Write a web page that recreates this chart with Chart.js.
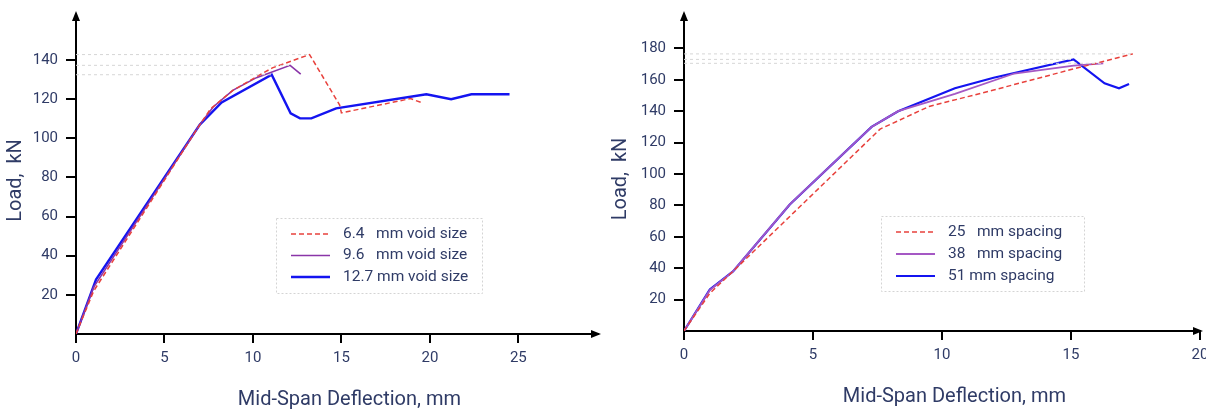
<!DOCTYPE html>
<html>
<head>
<meta charset="utf-8">
<script src="https://cdn.jsdelivr.net/npm/chart.js@4.4.1/dist/chart.umd.min.js"></script>
<style>
html, body { margin: 0; padding: 0; background: #fff; overflow: hidden; width: 1206px; height: 412px; }
canvas { position: absolute; top: 0; }
#leftChart { left: 0; }
#rightChart { left: 605px; }
</style>
</head>
<body>
<canvas id="leftChart" width="605" height="412"></canvas>
<canvas id="rightChart" width="615" height="412"></canvas>
<script>
// ---- Left chart: void size ----
const leftXTicks = [0, 5, 10, 15, 20, 25];
const leftYTicks = [20, 40, 60, 80, 100, 120, 140];

const void64X = [0, 1, 7, 7.6, 8.86, 10.2, 11.1, 13.2, 14.9, 15, 18.9, 19.6];
const void64Y = [0, 22, 107, 115, 124.5, 131.5, 136, 142.8, 117, 113, 120.3, 118];
const void96X = [0, 1, 7, 7.75, 8.86, 10.2, 12.1, 12.7];
const void96Y = [0, 24, 107, 116, 124.5, 131, 137.3, 132.8];
const void127X = [0, 1.13, 7, 8.23, 11.06, 12.13, 12.66, 13.3, 14.7, 19.8, 21.2, 22.35, 24.5];
const void127Y = [0, 27.8, 107, 118.3, 132.5, 112.8, 110.2, 110.2, 115.3, 122.5, 120, 122.5, 122.5];

// ---- Right chart: spacing ----
const rightXTicks = [0, 5, 10, 15, 20];
const rightYTicks = [20, 40, 60, 80, 100, 120, 140, 160, 180];

const sp25X = [0, 1, 1.9, 7.6, 9.5, 12, 15, 17.4];
const sp25Y = [0, 24, 38, 128.6, 143, 153.5, 166.5, 176.5];
const sp38X = [0, 1, 1.9, 4.1, 7.27, 8.3, 10.5, 12.8, 15.1, 16.25];
const sp38Y = [0, 26, 38, 80.6, 130, 140, 151, 164, 169, 170.5];
const sp51X = [0, 1, 1.9, 4.1, 7.27, 8.3, 10.5, 12, 15.1, 16.3, 16.86, 17.25];
const sp51Y = [0, 26.5, 38, 80.6, 130, 140, 154.6, 161.3, 173, 157.8, 154.6, 157.3];

const TEXT_COLOR = '#2f3b66';
const FONT = 'Roboto, "DejaVu Sans", sans-serif';

function toPoints(xs, ys) {
    return xs.map((x, i) => ({ x: x, y: ys[i] }));
}

// dotted line at the peak load of a series, from the y axis to the peak
function peakLine(xs, ys) {
    let k = 0;
    ys.forEach((v, i) => { if (v > ys[k]) k = i; });
    return {
        isRef: true,
        data: [{ x: 0, y: ys[k] }, { x: xs[k], y: ys[k] }],
        borderColor: '#d6d6d6',
        borderWidth: 1,
        borderDash: [3, 3],
        pointRadius: 0
    };
}

function series(label, xs, ys, color, width, dash) {
    return {
        label: label,
        data: toPoints(xs, ys),
        borderColor: color,
        borderWidth: width,
        borderDash: dash || [],
        pointRadius: 0,
        tension: 0,
        fill: false
    };
}

// axis arrows + boxed legend
const decorPlugin = {
    id: 'decor',
    afterDraw(chart, args, opts) {
        const ctx = chart.ctx;
        const a = chart.chartArea;
        ctx.save();
        ctx.fillStyle = '#000';
        ctx.beginPath();
        ctx.moveTo(a.left, a.top - 6);
        ctx.lineTo(a.left - 4, a.top + 4);
        ctx.lineTo(a.left + 4, a.top + 4);
        ctx.closePath();
        ctx.fill();
        ctx.beginPath();
        ctx.moveTo(a.right + 3, a.bottom);
        ctx.lineTo(a.right - 7, a.bottom - 4);
        ctx.lineTo(a.right - 7, a.bottom + 4);
        ctx.closePath();
        ctx.fill();

        // legend box
        const L = opts.legend;
        ctx.strokeStyle = '#d4d4d4';
        ctx.lineWidth = 1;
        ctx.setLineDash([2, 2]);
        ctx.strokeRect(L.x + 0.5, L.y + 0.5, L.w, L.h);
        const items = chart.data.datasets.filter(d => !d.isRef);
        ctx.font = '15.5px ' + FONT;
        ctx.textBaseline = 'middle';
        items.forEach((d, i) => {
            const y = L.y + L.firstRow + i * L.rowGap;
            ctx.strokeStyle = d.borderColor;
            ctx.lineWidth = d.borderWidth;
            ctx.setLineDash(d.borderDash);
            ctx.beginPath();
            ctx.moveTo(L.x + 15, y);
            ctx.lineTo(L.x + 54, y);
            ctx.stroke();
            ctx.fillStyle = TEXT_COLOR;
            ctx.fillText(d.label, L.x + 67, y);
        });
        ctx.restore();
    }
};

function makeOptions(cfg) {
    return {
        responsive: false,
        animation: false,
        layout: { padding: { top: 10, right: cfg.padRight, left: 0, bottom: 0 } },
        plugins: {
            legend: { display: false },
            tooltip: { enabled: false },
            decor: { legend: cfg.legend }
        },
        scales: {
            x: {
                type: 'linear',
                min: 0,
                max: cfg.xMax,
                afterBuildTicks: s => { s.ticks = cfg.xTicks.map(v => ({ value: v })); },
                afterFit: s => { s.height = cfg.xAxisHeight; },
                border: { display: true, color: '#000', width: 2 },
                grid: { drawOnChartArea: false, drawTicks: true, tickLength: 9, color: '#000', lineWidth: 2 },
                ticks: { color: TEXT_COLOR, font: { family: FONT, size: 15 }, padding: 6, maxRotation: 0 },
                title: {
                    display: true,
                    // leading spaces nudge the title right of the plot centre, as in the source
                    text: '     Mid-Span Deflection, mm',
                    color: TEXT_COLOR,
                    font: { family: FONT, size: 20 },
                    padding: { bottom: cfg.xTitlePad, top: 0 }
                }
            },
            y: {
                type: 'linear',
                min: 0,
                max: cfg.yMax,
                afterBuildTicks: s => { s.ticks = cfg.yTicks.map(v => ({ value: v })); },
                afterFit: s => { s.width = cfg.yAxisWidth; },
                border: { display: true, color: '#000', width: 2 },
                grid: { drawOnChartArea: false, drawTicks: true, tickLength: 10, color: '#000', lineWidth: 2 },
                ticks: { color: TEXT_COLOR, font: { family: FONT, size: 15 }, padding: 8 },
                title: {
                    display: true,
                    text: 'Load,  kN  ',
                    color: TEXT_COLOR,
                    font: { family: FONT, size: 20 },
                    padding: { top: cfg.yTitlePad, bottom: 0 }
                }
            }
        }
    };
}

new Chart(document.getElementById('leftChart'), {
    type: 'line',
    data: {
        datasets: [
            peakLine(void64X, void64Y),
            peakLine(void96X, void96Y),
            peakLine(void127X, void127Y),
            series('6.4   mm void size', void64X, void64Y, '#e8413c', 1.5, [5, 3]),
            series('9.6   mm void size', void96X, void96Y, '#8a35a8', 1.6),
            series('12.7 mm void size', void127X, void127Y, '#1414f0', 2.4)
        ]
    },
    options: makeOptions({
        xMax: 29.5, yMax: 162,
        xTicks: leftXTicks, yTicks: leftYTicks,
        padRight: 7, xAxisHeight: 78, yAxisWidth: 76,
        xTitlePad: 0, yTitlePad: 4,
        legend: { x: 276, y: 218, w: 206, h: 75, firstRow: 16, rowGap: 21.5 }
    }),
    plugins: [decorPlugin]
});

new Chart(document.getElementById('rightChart'), {
    type: 'line',
    data: {
        datasets: [
            peakLine(sp25X, sp25Y),
            peakLine(sp38X, sp38Y),
            peakLine(sp51X, sp51Y),
            series('25   mm spacing', sp25X, sp25Y, '#e8413c', 1.5, [5, 3]),
            series('38   mm spacing', sp38X, sp38Y, '#a558c4', 1.8),
            series('51 mm spacing', sp51X, sp51Y, '#1414f0', 2.2)
        ]
    },
    options: makeOptions({
        xMax: 20, yMax: 200,
        xTicks: rightXTicks, yTicks: rightYTicks,
        padRight: 20, xAxisHeight: 81, yAxisWidth: 79,
        xTitlePad: 3, yTitlePad: 4,
        legend: { x: 276, y: 216, w: 203, h: 75, firstRow: 16, rowGap: 22 }
    }),
    plugins: [decorPlugin]
});
</script>
</body>
</html>
